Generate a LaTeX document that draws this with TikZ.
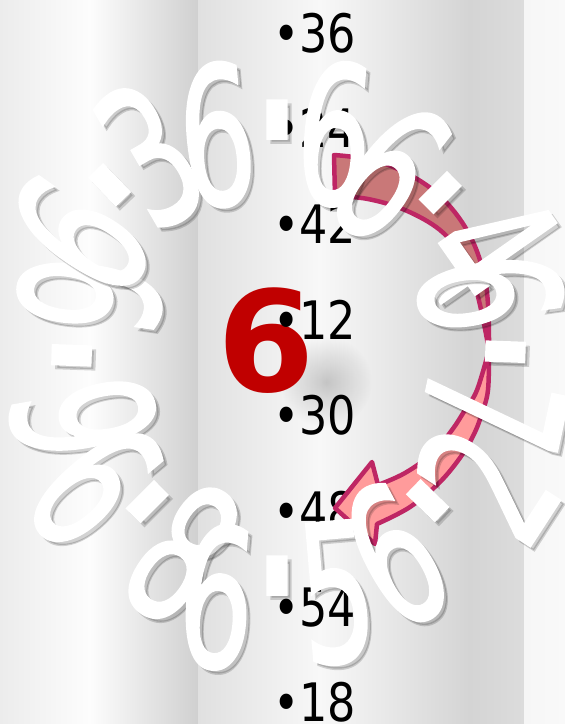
\documentclass[tikz,border=0pt]{standalone}
\usepackage{fontspec}
\setmainfont{DejaVu Sans}
\newfontfamily\wfont[FakeBold=1.5]{DejaVu Sans}
\newfontfamily\lfont[FakeStretch=0.84]{DejaVu Sans}
\usetikzlibrary{fadings,calc}

\tikzfading[name=blobfade, inner color=transparent!0, outer color=transparent!100]

\definecolor{arrowline}{RGB}{190,38,100}
\definecolor{arrowdark}{RGB}{201,120,120}
\definecolor{arrowlight}{RGB}{255,155,155}
\definecolor{redsix}{RGB}{192,0,0}

\tikzset{
  wglyph/.style={font=\wfont\fontsize{192}{192}\selectfont, text=white, inner sep=0pt, xscale=0.62},
  wshadow/.style={font=\wfont\fontsize{192}{192}\selectfont, text=black, text opacity=0.16, inner sep=0pt, xscale=0.62},
  wdot/.style={font=\wfont\fontsize{290}{290}\selectfont, text=white, inner sep=0pt, xscale=0.62},
  wdotshadow/.style={font=\wfont\fontsize{290}{290}\selectfont, text=black, text opacity=0.16, inner sep=0pt, xscale=0.62},
  listitem/.style={font=\lfont\fontsize{53}{53}\selectfont, text=black, inner sep=0pt, anchor=base west},
  arrowpart/.style={draw=arrowline, line width=4.5pt, line join=round},
  bignum/.style={font=\fontspec{DejaVu Sans}\bfseries\fontsize{140}{140}\selectfont, text=redsix, inner sep=0pt},
}

% white glyph: name, x, y, rotation, character
\newcommand{\wgl}[5]{%
  \node[rotate=#4, wshadow] (#1s) at ($(#2,#3)+(4,4)$) {#5};
  \node[rotate=#4, wglyph] (#1) at (#2,#3) {#5};
}
% white dot: name, x, y, rotation
\newcommand{\mdotc}{\smash{\raisebox{-0.37em}{·}}}
\newcommand{\wdt}[4]{%
  \node[rotate=#4, wdotshadow] (#1s) at ($(#2,#3)+(4,4)$) {\mdotc};
  \node[rotate=#4, wdot] (#1) at (#2,#3) {\mdotc};
}

\begin{document}
\begin{tikzpicture}[x=1pt,y=-1pt]
\useasboundingbox (0,0) rectangle (565,724);
\clip (0,0) rectangle (565,724);

% background stripes
\shade[left color={rgb,255:red,236;green,236;blue,236}, right color={rgb,255:red,253;green,253;blue,253}] (0,0) rectangle (90,724);
\shade[left color={rgb,255:red,253;green,253;blue,253}, right color={rgb,255:red,208;green,208;blue,208}] (89.5,0) rectangle (198,724);
\shade[left color={rgb,255:red,224;green,224;blue,224}, right color={rgb,255:red,248;green,248;blue,248}] (198,0) rectangle (320,724);
\shade[left color={rgb,255:red,248;green,248;blue,248}, right color={rgb,255:red,212;green,212;blue,212}] (319.5,0) rectangle (470,724);
\shade[left color={rgb,255:red,212;green,212;blue,212}, right color={rgb,255:red,220;green,220;blue,220}] (469.5,0) rectangle (524,724);
\shade[left color={rgb,255:red,246;green,246;blue,246}, right color={rgb,255:red,249;green,249;blue,249}] (524,0) rectangle (565,724);

% soft shadow spot
\fill[black, opacity=0.2, path fading=blobfade] (326,382) circle (46);

% red six
\node[bignum] (six) at (266,341) {6};

% list
\foreach \t [count=\i from 0] in {36,24,42,12,30,48,54,18}
  \node[listitem] (l\i) at (273,52+\i*95.7) {•\t};

% circular arrow
\draw[arrowpart, fill=arrowdark]
  plot[smooth, tension=0.6] coordinates {(334,155) (383,163) (433,190) (468,232) (486,285) (489,350)}
  -- plot[smooth, tension=0.6] coordinates {(489,350) (477,293) (462,257) (440,230) (405,210) (368,199) (335,196)}
  -- cycle;
\draw[arrowpart, fill=arrowlight]
  plot[smooth, tension=0.6] coordinates {(489,350) (488,390) (482,413) (475,432) (462,455) (440,482) (410,507) (377,524)}
  -- (375,544) -- (335,508) -- (372,462)
  -- plot[smooth, tension=0.6] coordinates {(378,485) (405,473) (433,453) (452,430) (465,410) (477,390) (489,350)}
  -- cycle;

% white text: upper arc
\wgl{g1}{83}{418}{100}{6}
\wdt{d1}{65}{355}{88}
\wgl{g2}{90}{295}{82}{9}
\wgl{g3}{80}{235}{55}{6}
\wdt{d2}{105}{180}{44}
\wgl{g4}{150}{155}{30}{3}
\wgl{g5}{217}{135}{5}{6}
\wdt{d3}{277}{113}{0}
\wgl{g6}{335}{134}{-5}{6}
\wgl{g7}{390}{172}{-38}{6}
\wdt{d4}{445}{188}{-45}
\wgl{g8}{488}{248}{-55}{4}
\wgl{g9}{490}{292}{-82}{6}
\wdt{d5}{512}{352}{-92}
\wgl{g10}{494}{410}{-102}{7}
% white text: lower arc
\wgl{g11}{95}{485}{-50}{6}
\wdt{d6}{152}{497}{-45}
\wgl{g12}{183}{553}{-35}{8}
\wgl{g13}{217}{597}{-5}{6}
\wdt{d7}{277}{569}{0}
\wgl{g14}{337}{593}{5}{5}
\wgl{g15}{395}{555}{28}{6}
\wdt{d8}{423}{496}{46}
\wgl{g16}{486}{483}{57}{2}
\end{tikzpicture}
\end{document}
